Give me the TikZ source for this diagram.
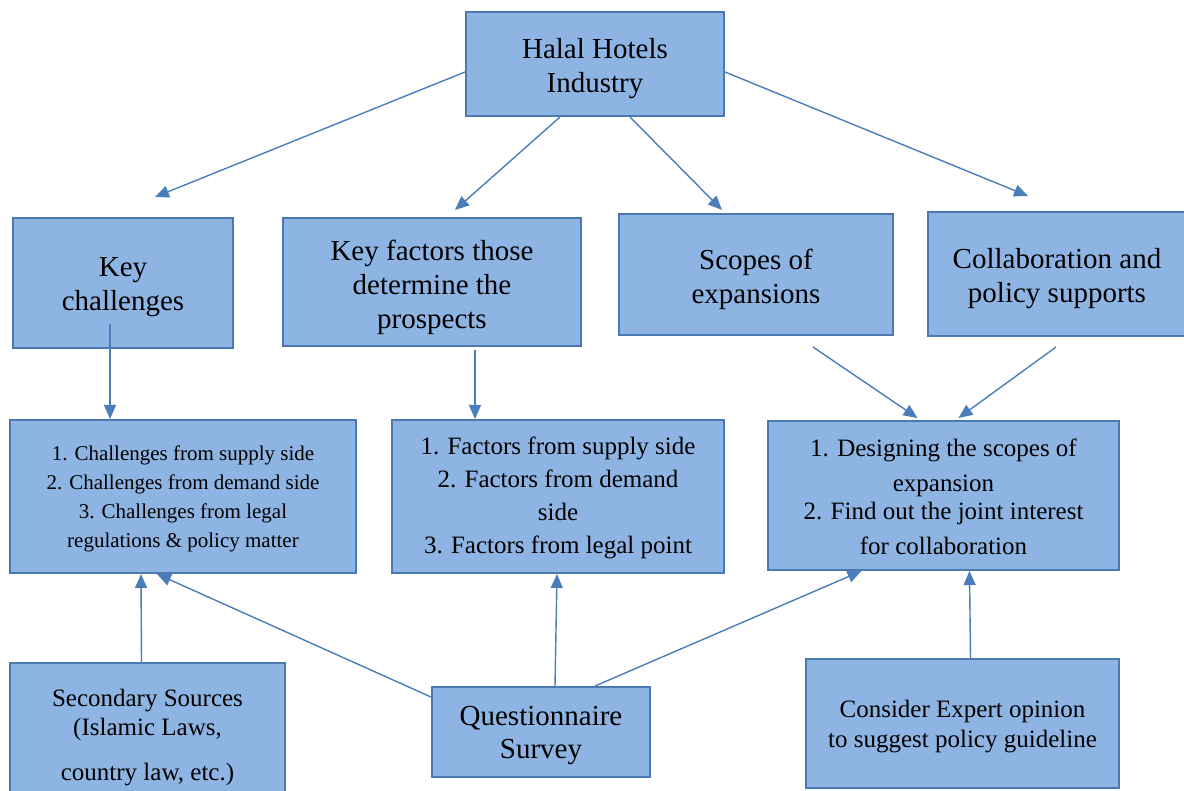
\documentclass[tikz,border=0pt]{standalone}
\usepackage{fontspec}
\setmainfont{Liberation Serif}
\usepackage{tikz}
\usetikzlibrary{arrows.meta}
\definecolor{boxfill}{HTML}{8EB4E3}
\definecolor{boxline}{HTML}{4A7AB0}
\definecolor{arrowblue}{HTML}{4A7EBB}

\begin{document}
\begin{tikzpicture}[x=1pt,y=-1pt,
		box/.style={draw=boxline,fill=boxfill,line width=2pt,inner sep=0pt},
		txt/.style={align=center,inner sep=0pt},
		big/.style={txt,font=\fontsize{29}{34}\selectfont},
		mid/.style={txt,font=\fontsize{25}{33}\selectfont},
		small/.style={txt,font=\fontsize{21}{29}\selectfont},
		conn/.style={arrowblue,line width=1.4pt,-{Triangle[length=14pt,width=12pt]}}]
		\useasboundingbox (0,0) rectangle (1184,791);

		% top and second row
		\node[box,minimum width=258pt,minimum height=104pt] (halal) at (595,64) {};
		\node[big] (halaltxt) at ([yshift=-4.5pt]halal.center) {Halal Hotels\\Industry};
		\node[box,minimum width=220pt,minimum height=130pt] (kc) at (123,283) {};
		\node[big] (kctxt) at ([yshift=-4.5pt]kc.center) {Key\\challenges};
		\node[box,minimum width=298pt,minimum height=128pt] (kf) at (432,282) {};
		\node[big] (kftxt) at ([yshift=-5pt]kf.center) {Key factors those\\determine the\\prospects};
		\node[box,minimum width=274pt,minimum height=121pt] (sc) at (756,274.5) {};
		\node[big] (sctxt) at ([yshift=-4.5pt]sc.center) {Scopes of\\expansions};
		\node[box,minimum width=258pt,minimum height=124pt] (co) at (1057,274) {};
		\node[big] (cotxt) at ([yshift=-4.5pt]co.center) {Collaboration and\\policy supports};

		% lists
		\node[box,minimum width=346pt,minimum height=153pt] (cl) at (183,496.5) {};
		\node[small] (cltxt) at ([yshift=-2.5pt]cl.center) {1. Challenges from supply side\\2. Challenges from demand side\\3. Challenges from legal\\regulations \& policy matter};
		\node[box,minimum width=332pt,minimum height=153pt] (fl) at (558,496.5) {};
		\node[mid] (fltxt) at ([yshift=-1pt]fl.center) {1. Factors from supply side\\2. Factors from demand\\side\\3. Factors from legal point};
		\node[box,minimum width=351pt,minimum height=149pt] (dl) at (943.5,495.5) {};
		\node[txt,font=\fontsize{25}{35}\selectfont] (dltxt) at ([yshift=-1pt]dl.center) {1. Designing the scopes of\\expansion\\[-7pt]2. Find out the joint interest\\for collaboration};

		% sources
		\node[box,minimum width=275pt,minimum height=142pt] (ss) at (147.5,734) {};
		\node[txt,font=\fontsize{25}{29}\selectfont] (sstxt) at ([yshift=-3.5pt]ss.center) {Secondary Sources\\(Islamic Laws,\\[16pt]country law, etc.)};
		\node[box,minimum width=218pt,minimum height=90pt] (qs) at (541,732) {};
		\node[txt,font=\fontsize{29}{33}\selectfont] (qstxt) at ([yshift=-4pt]qs.center) {Questionnaire\\Survey};
		\node[box,minimum width=313pt,minimum height=129pt] (cx) at (962.5,723.5) {};
		\node[txt,font=\fontsize{25}{30}\selectfont] (cxtxt) at ([yshift=-3.5pt]cx.center) {Consider Expert opinion\\to suggest policy guideline};

		\draw[conn] ([yshift=-8pt]halal.west) -- ([xshift=32pt,yshift=20pt]kc.north);
		\draw[conn] ([xshift=-35pt]halal.south) -- ([xshift=23pt,yshift=7pt]kf.north);
		\draw[conn] ([xshift=35pt]halal.south) -- ([xshift=-34pt,yshift=3pt]sc.north);
		\draw[conn] ([yshift=-8pt]halal.east) -- ([xshift=-29pt,yshift=15pt]co.north);

		\draw[conn] ([xshift=-13pt,yshift=25pt]kc.south) -- ([xshift=-73pt]cl.north);
		\draw[conn] ([xshift=43pt,yshift=-3pt]kf.south) -- ([xshift=-83pt]fl.north);
		\draw[conn] ([xshift=57pt,yshift=-11pt]sc.south) -- ([xshift=-26pt,yshift=2pt]dl.north);
		\draw[conn] ([xshift=-1pt,yshift=-10pt]co.south) -- ([xshift=15pt,yshift=2pt]dl.north);

		\draw[conn] ([xshift=-6pt]ss.north) -- ([xshift=-42pt]cl.south);
		\draw[conn] ([yshift=35pt]qs.west) -- ([xshift=-26pt]cl.south);
		\draw[conn] ([xshift=14pt]qs.north) -- ([xshift=-1pt]fl.south);
		\draw[conn] ([xshift=54pt]qs.north) -- ([xshift=-82pt]dl.south);
		\draw[conn] ([xshift=8pt]cx.north) -- ([xshift=26pt]dl.south);
	\end{tikzpicture}
\end{document}
